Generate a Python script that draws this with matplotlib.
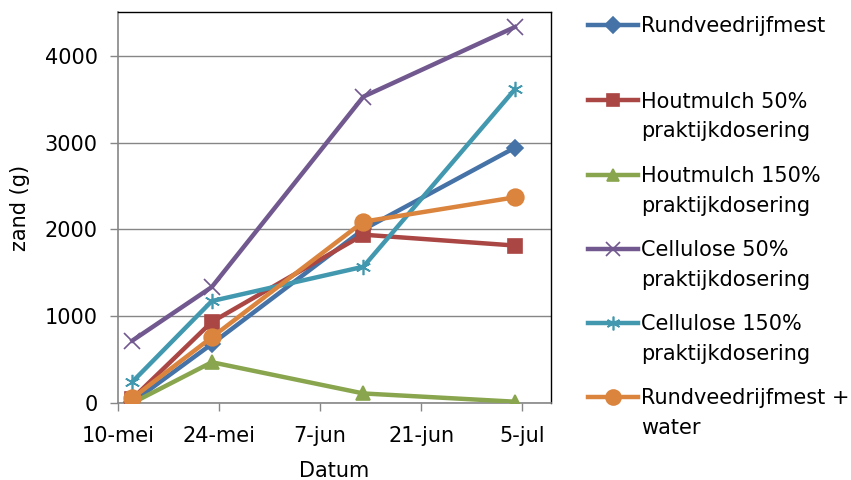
import numpy as np
import matplotlib
matplotlib.use("Agg")
import matplotlib.pyplot as plt
import matplotlib.dates as mdates
from matplotlib.lines import Line2D
from datetime import date

# meetdata
dates = [date(2013, 5, 12), date(2013, 5, 23), date(2013, 6, 13), date(2013, 7, 4)]
rundvee = [10, 680, 2000, 2943]
houtmulch50 = [50, 935, 1940, 1815]
houtmulch150 = [0, 470, 110, 15]
cellulose50 = [720, 1337, 3531, 4334]
cellulose150 = [245, 1175, 1571, 3616]
rundvee_water = [57, 757, 2090, 2371]

labels = ["Rundveedrijfmest", "Houtmulch 50%\npraktijkdosering",
          "Houtmulch 150%\npraktijkdosering", "Cellulose 50%\npraktijkdosering",
          "Cellulose 150%\npraktijkdosering", "Rundveedrijfmest +\nwater"]
xtick_dates = [date(2013, 5, 10), date(2013, 5, 24), date(2013, 6, 7),
               date(2013, 6, 21), date(2013, 7, 5)]
xtick_labels = ["10-mei", "24-mei", "7-jun", "21-jun", "5-jul"]
yticks = [0, 1000, 2000, 3000, 4000]

series = [rundvee, houtmulch50, houtmulch150, cellulose50, cellulose150, rundvee_water]
colors = ["#4572A7", "#AA4643", "#89A54E", "#71588F", "#4198AF", "#DB843D"]
markers = ["D", "s", "^", "x", (6, 2, 0), "o"]
msizes = [8.5, 10, 10, 11, 11, 12]

FS = 15
plt.rcParams['font.family'] = ['DejaVu Sans']
fig = plt.figure(figsize=(8.51, 4.8), dpi=100)
ax = fig.add_axes([118 / 851, 1 - 403 / 480, (551 - 118) / 851, (403 - 12) / 480])

xd = mdates.date2num(dates)
for vals, c, m, ms in zip(series, colors, markers, msizes):
    ax.plot(xd, vals, color=c, lw=3.2, marker=m, ms=ms, mec=c, mew=1.2, zorder=3)

ax.set_xlim(mdates.date2num(date(2013, 5, 10)), mdates.date2num(date(2013, 7, 9)))
ax.set_ylim(0, 4507)
ax.set_xticks(mdates.date2num(xtick_dates))
ax.set_xticklabels(xtick_labels)
ax.set_yticks(yticks)
ax.tick_params(labelsize=FS, colors="#868686", labelcolor="black", length=5.5,
               width=1, direction="out")
ax.tick_params(axis="x", pad=11)
ax.tick_params(axis="y", pad=9)
ax.grid(axis="y", color="#868686", lw=1)
ax.set_axisbelow(True)
for s in ("left", "bottom"):
    ax.spines[s].set_color("#868686")
    ax.spines[s].set_linewidth(1.2)
for s in ("top", "right"):
    ax.spines[s].set_color("black")
    ax.spines[s].set_linewidth(1)
ax.set_xlabel("Datum", fontsize=FS, labelpad=11)
ax.set_ylabel("zand (g)", fontsize=FS, labelpad=11)

# legenda (handmatig, marker bij eerste regel)
ys = [25, 100, 175, 249, 323, 397]
for lab, c, m, ms, y in zip(labels, colors, markers, msizes, ys):
    yf = 1 - y / 480
    fig.add_artist(Line2D([588 / 851, 638 / 851], [yf, yf], color=c, lw=3.2,
                          transform=fig.transFigure))
    fig.add_artist(Line2D([613 / 851], [yf], color=c, marker=m, ms=ms * 0.9,
                          mec=c, mew=1.2, transform=fig.transFigure))
    for i, line in enumerate(lab.split("\n")):
        fig.text(641 / 851, 1 - (y + 7.5 + 30 * i) / 480, line, fontsize=FS,
                 va="baseline", ha="left", transform=fig.transFigure)

fig.savefig("out.png", dpi=100)
